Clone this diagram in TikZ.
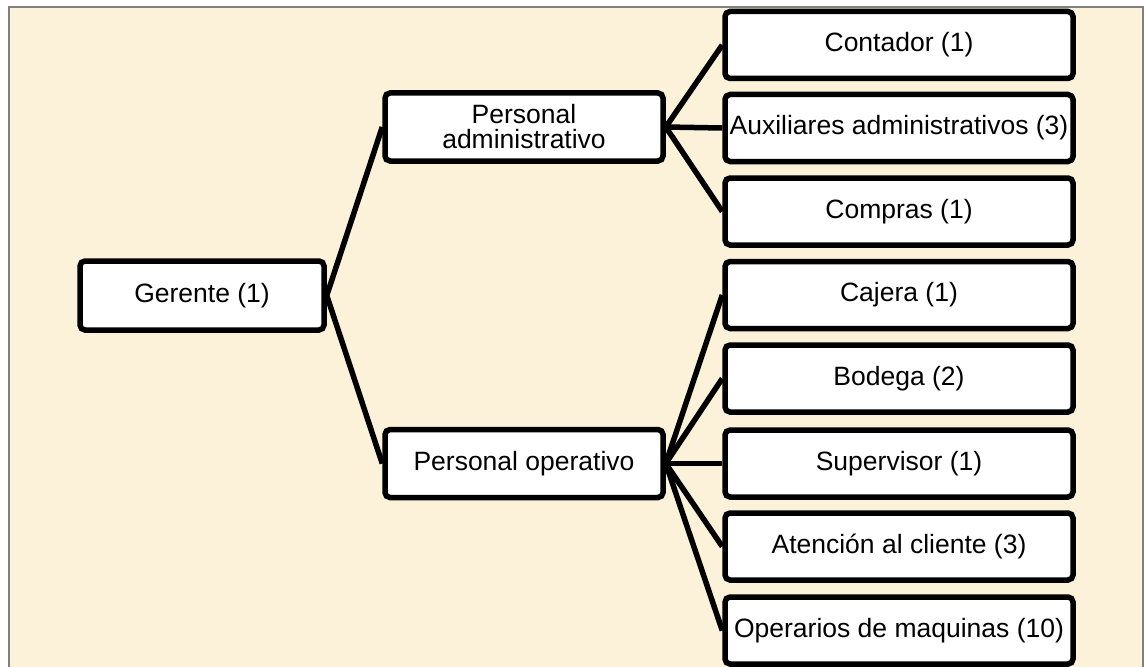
\documentclass[tikz,border=0pt]{standalone}
\usepackage{fontspec}
\setmainfont{Liberation Sans}
\definecolor{paper}{RGB}{252,241,217}
\definecolor{frame}{RGB}{128,128,128}
\pgfdeclarelayer{paperlayer}
\pgfdeclarelayer{linklayer}
\pgfsetlayers{paperlayer,linklayer,main}
\begin{document}
\begin{tikzpicture}[x=1pt,y=-1pt,
  box/.style={draw=black, line width=5.5pt, rounded corners=5pt, fill=white,
    inner sep=0pt, align=center, font=\fontsize{26.5}{25}\selectfont},
  leftbox/.style={box, minimum width=244pt, minimum height=69pt},
  midbox/.style={box, minimum width=278pt, minimum height=68pt},
  rightbox/.style={box, minimum width=348pt, minimum height=67pt},
  link/.style={draw=black, line width=5.5pt}]
\useasboundingbox (0,0) rectangle (1147,666);
\begin{pgfonlayer}{paperlayer}
\fill[white] (0,0) rectangle (1147,666);
\draw[fill=paper, draw=frame, line width=2pt] (8.5,7.5) rectangle (1142.5,680);
\end{pgfonlayer}

\node[leftbox] (ger) at (202,295.5) {Gerente (1)};
\node[midbox] (adm) at (524,127) {Personal\\administrativo};
\node[midbox] (ope) at (524,463.5) {Personal operativo};

\node[rightbox] (con) at (899,45) {Contador (1)};
\node[rightbox] (aux) at (899,128) {Auxiliares administrativos (3)};
\node[rightbox] (com) at (899,211.5) {Compras (1)};
\node[rightbox] (caj) at (899,295) {Cajera (1)};
\node[rightbox] (bod) at (899,378.5) {Bodega (2)};
\node[rightbox] (sup) at (899,463.5) {Supervisor (1)};
\node[rightbox] (ate) at (899,546.5) {Atención al cliente (3)};
\node[rightbox] (opr) at (899,630.5) {Operarios de maquinas (10)};

\begin{pgfonlayer}{linklayer}
\path[link] (ger.east) -- (adm.west);
\path[link] (ger.east) -- (ope.west);
\foreach \t in {con,aux,com} \path[link] (adm.east) -- (\t.west);
\foreach \t in {caj,bod,sup,ate,opr} \path[link] (ope.east) -- (\t.west);
\end{pgfonlayer}
\end{tikzpicture}
\end{document}
